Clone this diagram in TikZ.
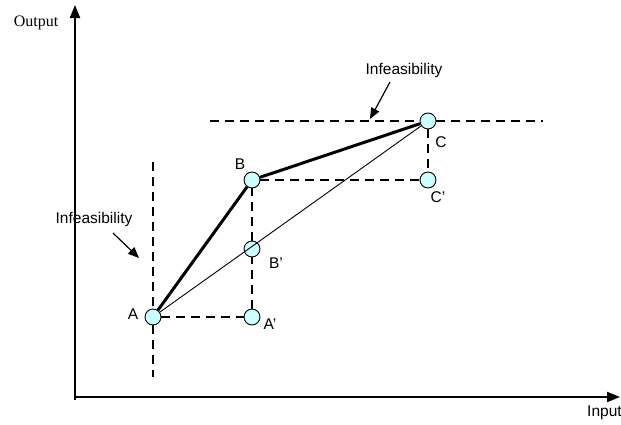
\documentclass[tikz,border=0pt]{standalone}
\usepackage{fontspec}
\setmainfont{Liberation Sans}
\newfontfamily\serifx{Liberation Serif}
\usetikzlibrary{arrows.meta}
\definecolor{ptfill}{RGB}{204,255,255}
\tikzset{
  pt/.style={circle,draw=black,line width=0.9pt,fill=ptfill,minimum size=16pt,inner sep=0pt},
  dashln/.style={line width=2pt,dash pattern=on 9pt off 6pt},
  thickln/.style={line width=3pt},
  thinln/.style={line width=0.9pt},
  axis/.style={line width=2pt,-{Triangle[length=13pt,width=10pt]}},
  note/.style={line width=1.2pt,-{Triangle[length=11pt,width=9pt]}},
  lbl/.style={font=\fontsize{15.5}{17}\selectfont,inner sep=0pt},
}
\begin{document}
\begin{tikzpicture}[x=1pt,y=-1pt]
\useasboundingbox (0,0) rectangle (621,424);
% axes
\coordinate (O) at (75,397);
\coordinate (Ytop) at (75,5);
\coordinate (Xend) at (620,397);
\coordinate (Ybot) at (75,400);
\draw[line width=2pt] (Ybot) -- (O);
\draw[axis] (O) -- (Ytop);
\draw[axis] (O) -- (Xend);
\node[font=\serifx\fontsize{16}{18}\selectfont,inner sep=0pt] (out) at (36,23) {Output};
\node[lbl,anchor=west] (inp) at (587,413) {Input};
% points
\node[pt] (A) at (153,317) {};
\node[pt] (Ap) at (252,317) {};
\node[pt] (B) at (252,180) {};
\node[pt] (Bp) at (252,249) {};
\node[pt] (C) at (428,121) {};
\node[pt] (Cp) at (428,180) {};
% dashed guides
\coordinate (vt) at (153,162);
\coordinate (vb) at (153,377);
\coordinate (hl) at (210,121);
\coordinate (hr) at (543,121);
\draw[dashln] (vt) -- (A.north);
\draw[dashln] (A.south) -- (vb);
\draw[dashln] (hl) -- (C.west);
\draw[dashln] (C.east) -- (hr);
\draw[dashln] (A) -- (Ap);
\draw[dashln] (Ap) -- (Bp);
\draw[dashln] (Bp) -- (B);
\draw[dashln] (B) -- (Cp);
\draw[dashln] (C) -- (Cp);
% frontier lines
\draw[thickln] (A) -- (B);
\draw[thickln] (B) -- (C);
\draw[thinln] (A) -- (C);
% labels
\node[lbl] (lA) at (133,314) {A};
\node[lbl] (lAp) at (270,324) {A'};
\node[lbl] (lB) at (240,164) {B};
\node[lbl] (lBp) at (276,263) {B'};
\node[lbl] (lC) at (441,142) {C};
\node[lbl] (lCp) at (438,197) {C'};
% infeasibility notes
\node[lbl] (inf1) at (94,219) {Infeasibility};
\coordinate (a1s) at (113,233);
\coordinate (a1e) at (139,258);
\draw[note] (a1s) -- (a1e);
\node[lbl] (inf2) at (404,70) {Infeasibility};
\coordinate (a2s) at (390,82);
\coordinate (a2e) at (370,119);
\draw[note] (a2s) -- (a2e);
\end{tikzpicture}
\end{document}
